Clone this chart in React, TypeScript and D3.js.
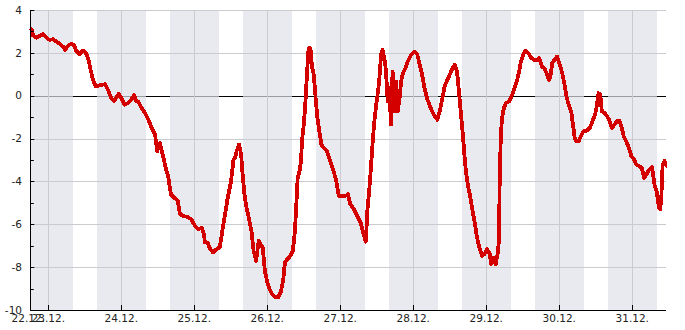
import React from "react";
import * as d3 from "d3";

// Hours relative to 23.12. 00:00
const hourOffsets = [
  -5.9, -5.5, -5.0, -3.9, -2.8, -1.7, -0.66, 0.45, 1.55, 2.6, 3.7, 4.8, 5.6, 6.5, 7.6, 8.4, 9.2, 10.3, 11.4, 12.2,
  13.1, 13.9, 14.7, 15.6, 16.6, 17.7, 18.7, 19.6, 20.7, 21.6, 22.4, 23.1, 24.0, 25.1, 26.2, 27.3, 28.2, 28.9, 29.6,
  30.7, 31.8, 32.9, 34.0, 35.1, 35.8, 36.7, 37.6, 38.6, 39.5, 40.3, 41.4, 42.6, 43.3, 44.4, 45.8, 47.1, 48.2, 49.3,
  50.4, 51.2, 51.5, 52.4, 53.2, 54.2, 55.3, 56.4, 57.2, 58.1, 59.0, 60.1, 60.9, 61.4, 61.9, 62.7, 63.4, 63.8, 64.5,
  65.2, 65.9, 66.8, 67.5, 68.3, 69.2, 69.7, 70.5, 71.2, 71.9, 72.7, 73.6, 74.7, 75.6, 76.4, 77.2, 77.8, 78.6, 79.6,
  80.4, 81.1, 81.5, 82.0, 82.6, 83.1, 83.4, 84.0, 84.5, 85.1, 85.6, 86.2, 86.7, 87.3, 87.8, 88.5, 89.1, 89.8, 90.5,
  91.6, 92.7, 93.8, 94.7, 95.5, 96.6, 97.6, 98.5, 99.3, 100.5, 101.6, 102.7, 103.5, 104.4, 104.9, 105.5, 106.0,
  106.6, 107.1, 107.7, 108.2, 108.8, 109.4, 109.9, 110.5, 111.0, 111.6, 112.1, 112.7, 113.2, 113.8, 114.4, 114.9,
  115.5, 116.0, 116.6, 117.4, 118.2, 119.3, 120.4, 121.3, 122.0, 122.9, 123.7, 124.5, 125.3, 126.2, 127.1, 127.9,
  128.7, 129.6, 130.3, 131.2, 132.0, 132.9, 133.6, 134.4, 135.2, 135.8, 136.4, 136.8, 137.3, 138.0, 138.6, 139.3,
  140.1, 140.8, 141.7, 142.6, 143.4, 144.2, 145.1, 145.6, 146.4, 147.1, 147.9, 148.2, 148.4, 148.8, 149.2, 149.8,
  150.5, 151.6, 152.3, 153.1, 154.0, 154.8, 155.4, 156.2, 157.0, 157.9, 158.7, 159.8, 160.7, 161.4, 162.3, 163.1,
  163.8, 164.6, 165.1, 165.7, 166.4, 167.3, 168.2, 169.0, 169.7, 170.4, 171.1, 172.0, 172.5, 173.1, 173.6, 174.4,
  175.1, 175.9, 177.0, 178.1, 178.9, 179.8, 180.4, 180.9, 181.5, 182.0, 182.9, 183.7, 184.4, 185.3, 186.2, 187.0,
  187.8, 188.4, 189.2, 190.0, 190.9, 191.7, 192.6, 193.3, 194.3, 195.1, 195.9, 196.7, 197.6, 198.5, 199.3, 200.0,
  200.8, 201.2, 201.6, 202.0, 202.6, 203.4, 204.0,
];

const temperatures = [
  3.15, 3.1, 2.81, 2.71, 2.79, 2.88, 2.71, 2.6, 2.64, 2.53, 2.42, 2.3, 2.14, 2.34, 2.42, 2.37, 2.09, 1.94, 2.11, 2.03,
  1.75, 1.21, 0.74, 0.43, 0.48, 0.51, 0.54, 0.28, -0.11, -0.26, -0.08, 0.08, -0.11, -0.42, -0.34, -0.19, 0.02, -0.26, -0.29,
  -0.57, -0.81, -1.12, -1.5, -1.81, -2.59, -2.2, -2.74, -3.36, -3.83, -4.6, -4.76, -4.91, -5.53, -5.61, -5.66, -5.77, -6.08, -6.23,
  -6.16, -6.47, -6.85, -6.85, -7.16, -7.32, -7.16, -7.08, -6.31, -5.53, -4.76, -3.98, -2.98, -2.9, -2.59, -2.28, -2.74, -3.52, -4.6,
  -5.25, -5.69, -6.31, -7.24, -7.7, -6.78, -6.93, -7.09, -8.17, -8.64, -9.02, -9.26, -9.41, -9.41, -9.18, -8.64, -7.78, -7.63, -7.47,
  -7.24, -6.31, -5.22, -3.83, -3.52, -3.05, -2.12, -1.35, -0.42, 1.13, 2.22, 2.22, 1.36, 0.98, 0.05, -1.04, -1.66, -2.28, -2.43,
  -2.59, -3.05, -3.52, -3.98, -4.68, -4.68, -4.68, -4.6, -5.07, -5.3, -5.61, -5.92, -6.39, -6.81, -5.38, -4.45, -3.52,
  -2.28, -1.35, -0.57, -0.03, 0.67, 1.91, 2.14, 1.75, 1.21, -0.26, 0.36, -1.35, 1.13, -0.73, 0.67, -0.73,
  -0.11, 0.67, 1.05, 1.29, 1.6, 1.91, 2.06, 1.94, 1.52, 0.98, 0.36, -0.11, -0.42, -0.73, -0.96, -1.12,
  -0.73, -0.11, 0.43, 0.74, 0.98, 1.29, 1.44, 1.13, -0.11, -1.04, -1.97, -2.74, -3.52, -4.22, -4.6, -5.22,
  -5.84, -6.47, -7.09, -7.47, -7.4, -7.16, -7.36, -7.86, -7.55, -7.86, -7.24, -6.62, -4.14, -1.81, -1.04, -0.57,
  -0.34, -0.26, -0.03, 0.28, 0.64, 1.13, 1.6, 1.94, 2.11, 1.98, 1.78, 1.67, 1.67, 1.75, 1.36, 1.29,
  1.05, 0.74, 0.9, 1.52, 1.67, 1.83, 1.44, 1.05, 0.55, -0.05, -0.42, -0.81, -1.35, -1.97, -2.12, -2.12,
  -1.89, -1.66, -1.63, -1.5, -1.19, -0.88, -0.42, 0.12, 0.05, -0.73, -0.81, -0.96, -1.12, -1.5, -1.35, -1.19,
  -1.16, -1.43, -1.89, -2.12, -2.43, -2.82, -2.98, -3.21, -3.29, -3.36, -3.83, -3.67, -3.44, -3.33, -4.14, -4.45,
  -5.22, -5.3, -4.6, -3.21, -3.05, -3.29, -3.36,
];

const yTickValues = [-10, -8, -6, -4, -2, 0, 2, 4];
const yMinorTickValues = [-9, -7, -5, -3, -1, 1, 3];

const BASE_TIME = new Date(2023, 11, 23, 0, 0, 0).getTime();
const DOMAIN_START_HOURS = -5.92;
const DOMAIN_END_HOURS = 203.1;
const NIGHT_HALF_HOURS = 8;

const toDate = (h: number) => new Date(BASE_TIME + h * 3600e3);

export default function App() {
  const W = 685;
  const H = 330;
  const left = 30.3;
  const right = 666;
  const top = 10;
  const bottom = 310;

  const x = d3
    .scaleTime()
    .domain([toDate(DOMAIN_START_HOURS), toDate(DOMAIN_END_HOURS)])
    .range([left, right]);
  const y = d3.scaleLinear().domain([-10, 4]).range([bottom, top]);

  const [d0, d1] = x.domain();
  const days = d3.timeDay.range(d3.timeDay.ceil(d0), d1);
  const fmt = d3.timeFormat("%d.%m.");

  const data = hourOffsets.map((h, i) => ({ t: toDate(h), v: temperatures[i] }));
  const line = d3
    .line<{ t: Date; v: number }>()
    .x((d) => x(d.t))
    .y((d) => y(d.v));

  const bands = days.map((d) => {
    const a = Math.max(x(new Date(d.getTime() - NIGHT_HALF_HOURS * 3600e3)), left);
    const b = Math.min(x(new Date(d.getTime() + NIGHT_HALF_HOURS * 3600e3)), right);
    return [a, b];
  });

  const font = "'DejaVu Sans', Verdana, sans-serif";
  const grid = "#cbcbcf";

  return (
    <svg
      width={W}
      height={H}
      style={{ position: "absolute", left: 0, top: 0, background: "#fff" }}
    >
      <defs>
        <clipPath id="plotClip">
          <rect x={left - 2} y={top - 3} width={right - left + 3} height={bottom - top + 6} />
        </clipPath>
      </defs>
      {/* zero line (below night bands) */}
      <line x1={left} x2={right} y1={Math.round(y(0)) + 0.5} y2={Math.round(y(0)) + 0.5} stroke="#000" strokeWidth={1} />
      {/* night bands */}
      {bands.map(([a, b], i) => (
        <rect key={i} x={a} y={top} width={b - a} height={bottom - top} fill="rgb(223,224,233)" fillOpacity={0.69} shapeRendering="crispEdges" />
      ))}
      {/* horizontal grid */}
      {yTickValues
        .filter((v) => v !== 0 && v !== -10)
        .map((v) => (
          <line key={v} x1={left} x2={right} y1={Math.round(y(v)) + 0.5} y2={Math.round(y(v)) + 0.5} stroke={grid} strokeWidth={1} />
        ))}
      {/* vertical grid */}
      {days.map((d, i) => (
        <line key={i} x1={Math.round(x(d)) + 0.5} x2={Math.round(x(d)) + 0.5} y1={top} y2={bottom} stroke={grid} strokeWidth={1} />
      ))}
      {/* data line */}
      <path
        d={line(data) || ""}
        fill="none"
        stroke="#d40000"
        strokeWidth={3.8}
        strokeLinejoin="round"
        shapeRendering="crispEdges"
        clipPath="url(#plotClip)"
      />
      {/* axes */}
      <line x1={Math.round(left) + 0.5} x2={Math.round(left) + 0.5} y1={top} y2={bottom + 0.5} stroke="#000" />
      <line x1={left} x2={right} y1={bottom + 0.5} y2={bottom + 0.5} stroke="#000" />
      {/* y ticks */}
      {yTickValues.map((v) => (
        <g key={v}>
          <line x1={left} x2={left + 4} y1={Math.round(y(v)) + 0.5} y2={Math.round(y(v)) + 0.5} stroke="#000" />
          <text x={22} y={y(v)} dy="0.35em" textAnchor="end" fontFamily={font} fontSize={10.5} fill="#222">
            {v}
          </text>
        </g>
      ))}
      {yMinorTickValues.map((v) => (
        <line key={v} x1={left} x2={left + 3.5} y1={Math.round(y(v)) + 0.5} y2={Math.round(y(v)) + 0.5} stroke="#000" />
      ))}
      {/* x ticks */}
      {days.map((d, i) => (
        <g key={i}>
          <line x1={Math.round(x(d)) + 0.5} x2={Math.round(x(d)) + 0.5} y1={bottom - 5} y2={bottom} stroke="#000" />
          <text x={x(d)} y={321.5} textAnchor="middle" fontFamily={font} fontSize={10.5} fill="#222">
            {fmt(d)}
          </text>
        </g>
      ))}
      <text x={x(d0) - 2} y={321.5} textAnchor="middle" fontFamily={font} fontSize={10.5} fill="#222">
        {fmt(d0)}
      </text>
    </svg>
  );
}
